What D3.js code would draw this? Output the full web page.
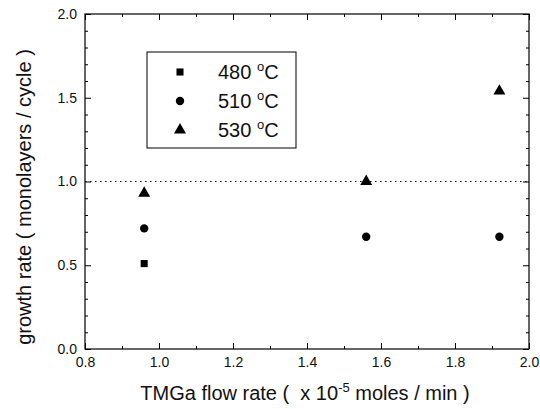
<!DOCTYPE html>
<meta charset="utf-8">
<script src="https://d3js.org/d3.v7.min.js"></script>
<style>
  body { margin: 0; background: #fff; font-family: Arial, "Liberation Sans", sans-serif; }
</style>
<body>
<div id="viz"></div>
<script>
// data
const flow = [0.96, 1.56, 1.92];
const rate480 = [0.51, null, null];
const rate510 = [0.72, 0.67, 0.67];
const rate530 = [0.93, 1.00, 1.54];
const seriesNames = ["480", "510", "530"];
const xTicks = [0.8, 1.0, 1.2, 1.4, 1.6, 1.8, 2.0];
const yTicks = [0.0, 0.5, 1.0, 1.5, 2.0];

const W = 540, H = 409;
const margin = {top: 14, right: 11, bottom: 60, left: 85};
const width = W - margin.left - margin.right,
      height = H - margin.top - margin.bottom;

const svg = d3.select("#viz").append("svg")
    .attr("width", W).attr("height", H)
  .append("g")
    .attr("transform", `translate(${margin.left},${margin.top})`);

const x = d3.scaleLinear().domain([0.8, 2.0]).range([0, width]);
const y = d3.scaleLinear().domain([0, 2.0]).range([height, 0]);

// frame
svg.append("rect").attr("width", width).attr("height", height)
  .attr("fill", "none").attr("stroke", "#000").attr("stroke-width", 1.2);

// inward ticks on all four sides, majors and minors
const xMinor = d3.range(0.9, 2.0, 0.2);
const yMinor = d3.range(0.1, 2.0, 0.1).filter(v => Math.abs(v * 2 - Math.round(v * 2)) > 0.01);
const styleAxis = g => { g.select(".domain").remove(); g.selectAll("line").attr("stroke", "#000"); };
const styleText = g => g.selectAll("text").attr("font-size", 14)
  .attr("font-family", "Arial, Liberation Sans, sans-serif").attr("fill", "#111");

svg.append("g").attr("transform", `translate(0,${height})`)
  .call(d3.axisBottom(x).tickValues(xTicks).tickSize(-6).tickPadding(8).tickFormat(d3.format(".1f")))
  .call(styleAxis).call(styleText);
svg.append("g").attr("transform", `translate(0,${height})`)
  .call(d3.axisBottom(x).tickValues(xMinor).tickSize(-3).tickFormat("")).call(styleAxis);
svg.append("g")
  .call(d3.axisTop(x).tickValues(xTicks).tickSize(-6).tickFormat("")).call(styleAxis);
svg.append("g")
  .call(d3.axisTop(x).tickValues(xMinor).tickSize(-3).tickFormat("")).call(styleAxis);

svg.append("g")
  .call(d3.axisLeft(y).tickValues(yTicks).tickSize(-6).tickPadding(8).tickFormat(d3.format(".1f")))
  .call(styleAxis).call(styleText);
svg.append("g")
  .call(d3.axisLeft(y).tickValues(yMinor).tickSize(-3).tickFormat("")).call(styleAxis);
svg.append("g").attr("transform", `translate(${width},0)`)
  .call(d3.axisRight(y).tickValues(yTicks).tickSize(-6).tickFormat("")).call(styleAxis);
svg.append("g").attr("transform", `translate(${width},0)`)
  .call(d3.axisRight(y).tickValues(yMinor).tickSize(-3).tickFormat("")).call(styleAxis);

// dotted reference line at 1.0
svg.append("line")
  .attr("x1", 0).attr("x2", width).attr("y1", y(1)).attr("y2", y(1))
  .attr("stroke", "#000").attr("stroke-width", 1).attr("stroke-dasharray", "1.5,3.5");

// markers
const shapes = [d3.symbolSquare, d3.symbolCircle, d3.symbolTriangle];
const sizes = [50, 55, 62];
const allRates = [rate480, rate510, rate530];
allRates.forEach((rates, i) => {
  const pts = flow.map((f, j) => ({f, r: rates[j]})).filter(d => d.r != null);
  svg.append("g").selectAll("path").data(pts).join("path")
    .attr("d", d3.symbol(shapes[i], sizes[i]))
    .attr("transform", d => `translate(${x(d.f)},${y(d.r)})`)
    .attr("fill", "#000");
});

// legend
const lg = svg.append("g").attr("transform", `translate(${147 - margin.left},${52 - margin.top})`);
lg.append("rect").attr("width", 149).attr("height", 96)
  .attr("fill", "#fff").attr("stroke", "#000").attr("stroke-width", 1);
seriesNames.forEach((name, i) => {
  const cy = 20 + i * 29;
  lg.append("path").attr("d", d3.symbol(shapes[i], sizes[i]))
    .attr("transform", `translate(33,${cy})`).attr("fill", "#000");
  const t = lg.append("text").attr("x", 71).attr("y", cy + 7)
    .attr("font-size", 20).attr("fill", "#111");
  t.append("tspan").text(name + " ");
  t.append("tspan").attr("dy", -8).attr("font-size", 13).text("o");
  t.append("tspan").attr("dy", 8).text("C");
});

// axis titles
const xt = svg.append("text").attr("x", 305 - margin.left).attr("y", 400 - margin.top)
  .attr("text-anchor", "middle").attr("font-size", 20).attr("fill", "#111")
  .style("white-space", "pre");
xt.append("tspan").text("TMGa flow rate (  x 10");
xt.append("tspan").attr("dy", -8).attr("font-size", 13).text("-5");
xt.append("tspan").attr("dy", 8).text(" moles / min )");

svg.append("text")
  .attr("transform", `translate(${31 - margin.left},${197 - margin.top}) rotate(-90)`)
  .attr("text-anchor", "middle").attr("font-size", 20).attr("fill", "#111")
  .text("growth rate ( monolayers / cycle )");
</script>
</body>
